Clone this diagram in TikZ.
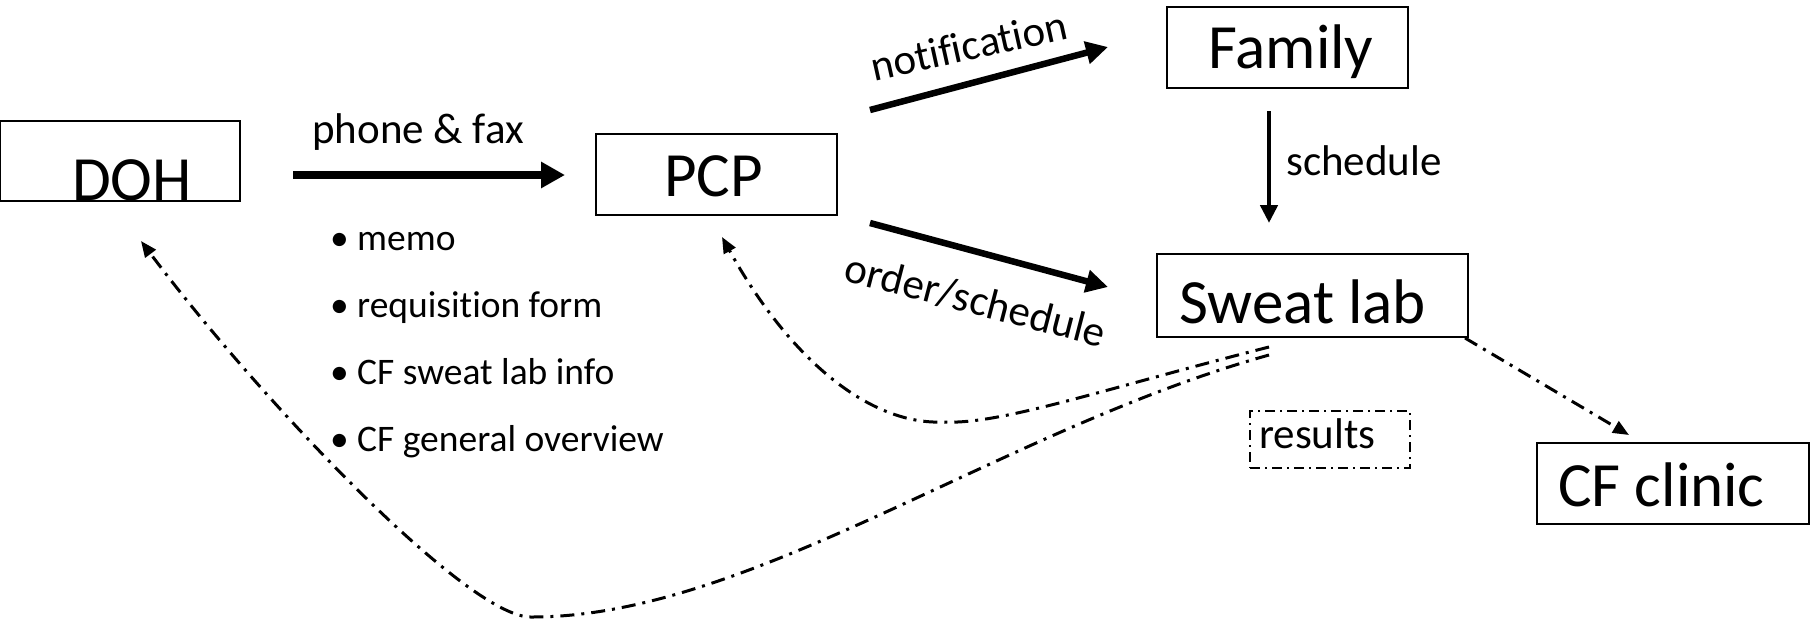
\documentclass[tikz,border=0pt]{standalone}
\usepackage{fontspec}
\setmainfont{Carlito}[Ligatures=NoCommon]
\usetikzlibrary{arrows.meta}
\begin{document}
\begin{tikzpicture}[x=1pt,y=-1pt,
  box/.style={draw=black,line width=2pt,inner sep=0pt,fill=none},
  bigtxt/.style={font=\fontsize{63}{63}\selectfont,inner sep=0pt,anchor=base west},
  midtxt/.style={font=\fontsize{43}{43}\selectfont,inner sep=0pt},
  bultxt/.style={font=\fontsize{37.5}{37.5}\selectfont,inner sep=0pt,anchor=base west},
  heavy/.style={line width=8pt,-{Triangle[length=24pt,width=25pt]}},
  medium/.style={line width=6.5pt,-{Triangle[length=22pt,width=22pt]}},
  light/.style={line width=4.5pt,-{Triangle[length=18pt,width=17pt]}},
  dashdot/.style={line width=3pt,dash pattern=on 14pt off 7pt on 3pt off 7pt,-{Triangle[length=16pt,width=13pt]}}
]
\useasboundingbox (0,0) rectangle (1814,619);

% boxes
\node[box,minimum width=240pt,minimum height=80pt] (doh) at (120,160.7) {};
\node[box,minimum width=241pt,minimum height=81pt] (pcp) at (716.5,174.5) {};
\node[box,minimum width=241pt,minimum height=81pt] (family) at (1287.5,47.5) {};
\node[box,minimum width=311pt,minimum height=83pt] (sweat) at (1312.5,295.5) {};
\node[box,minimum width=272pt,minimum height=81pt] (clinic) at (1673,483.5) {};
\node[draw=black,line width=2pt,dash pattern=on 10pt off 5pt on 2pt off 5pt,inner sep=0pt,minimum width=160pt,minimum height=57pt] (resbox) at (1330,439.5) {};

% box texts
\node[bigtxt] (dohtxt) at (72,200) {DOH};
\node[bigtxt] (pcptxt) at (664,196) {PCP};
\node[bigtxt] (familytxt) at (1208,68) {Family};
\node[bigtxt] (sweattxt) at (1179,323) {Sweat lab};
\node[bigtxt] (clinictxt) at (1558,506) {CF clinic};
\node[midtxt,anchor=base west] (restxt) at (1259,448) {results};

% labels
\node[midtxt,anchor=base west] (phonetxt) at (312,143) {phone \& fax};
\node[midtxt,anchor=base west] (schedtxt) at (1286,175) {schedule};
\node[midtxt,anchor=base,rotate=12.5] (notiftxt) at (972,60) {notification};
\node[midtxt,anchor=base,rotate=-14.5] (ordertxt) at (972,314) {order/schedule};

% bullet list
\node[bultxt] (b1) at (330,250) {\makebox[27pt][l]{•}memo};
\node[bultxt] (b2) at (330,317) {\makebox[27pt][l]{•}requisition form};
\node[bultxt] (b3) at (330,384) {\makebox[27pt][l]{•}CF sweat lab info};
\node[bultxt] (b4) at (330,451) {\makebox[27pt][l]{•}CF general overview};

% arrow end coordinates
\coordinate (pfA) at (293,175);
\coordinate (pfB) at (565,175);
\coordinate (ntA) at (870,110);
\coordinate (ntB) at (1108,47);
\coordinate (orA) at (870,223);
\coordinate (orB) at (1108,287);
\coordinate (scA) at (1269,111);
\coordinate (scB) at (1269,223);
\coordinate (cfB) at (1629,435);
\coordinate (r1A) at (1269,347);
\coordinate (r1B) at (722,237);
\coordinate (r2A) at (1269,355);
\coordinate (r2B) at (141,241);

% solid arrows
\draw[heavy] (pfA) -- (pfB);
\draw[medium] (ntA) -- (ntB);
\draw[medium] (orA) -- (orB);
\draw[light] (scA) -- (scB);

% dash-dot arrows
\draw[dashdot] ([xshift=-4pt]sweat.south east) -- (cfB);
\draw[dashdot] (r1A) .. controls (1100,390) and (1000,425) .. (943,422)
  .. controls (870,425) and (790,360) .. (r1B);
\draw[dashdot] (r2A) .. controls (1000,430) and (750,617) .. (532,617)
  .. controls (470,620) and (260,400) .. (r2B);
\end{tikzpicture}
\end{document}
